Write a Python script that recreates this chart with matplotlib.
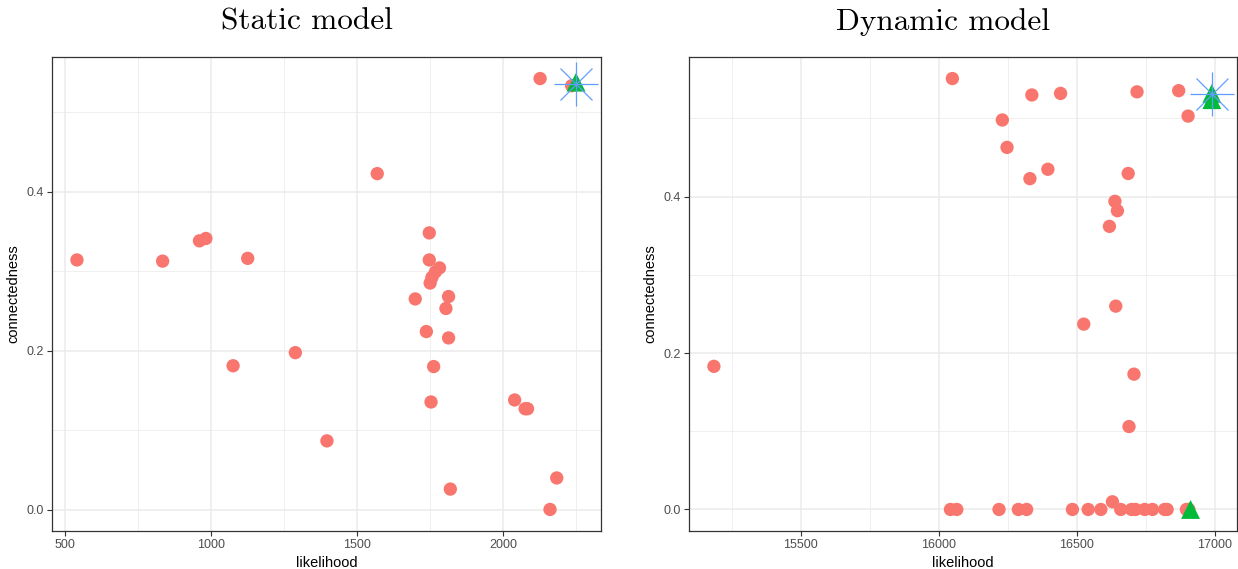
import matplotlib
matplotlib.use("Agg")
import matplotlib.pyplot as plt
import numpy as np

# ---------------- data ----------------
# Static model
static_other_lik = [542, 835, 961, 983, 1126, 1076, 1289, 1397, 1569, 1699, 1737,
                    1747, 1747, 1750, 1756, 1768, 1782, 1753, 1762, 1804, 1813, 1813,
                    1819, 2039, 2075, 2083, 2126, 2160, 2183, 2234]
static_other_con = [0.314, 0.3125, 0.338, 0.341, 0.316, 0.181, 0.1975, 0.0866, 0.4225, 0.265, 0.224,
                    0.348, 0.314, 0.285, 0.292, 0.299, 0.304, 0.1355, 0.180, 0.253, 0.268, 0.216,
                    0.026, 0.138, 0.127, 0.127, 0.542, 0.0004, 0.040, 0.533]
static_best_lik = [2249]
static_best_con = [0.5375]
static_star_lik = [2249]
static_star_con = [0.535]

# Dynamic model
dyn_other_lik = [15185, 16049, 16337, 16441, 16230, 16247, 16330, 16395, 16718, 16869, 16903,
                 16686, 16638, 16647, 16618, 16641, 16525, 16707, 16689,
                 16042, 16065, 16218, 16288, 16318, 16484, 16541, 16587, 16629, 16659,
                 16698, 16713, 16746, 16774, 16818, 16827, 16897, 16906]
dyn_other_con = [0.183, 0.551, 0.530, 0.532, 0.498, 0.463, 0.423, 0.435, 0.534, 0.5355, 0.503,
                 0.4296, 0.394, 0.382, 0.362, 0.260, 0.237, 0.173, 0.106,
                 0.0, 0.0, 0.0, 0.0, 0.0, 0.0, 0.0, 0.0, 0.0098, 0.0,
                 0.0, 0.0, 0.0, 0.0, 0.0, 0.0, 0.0, 0.0]
dyn_best_lik = [16989, 16989, 16912]
dyn_best_con = [0.532, 0.524, 0.0]
dyn_star_lik = [16990]
dyn_star_con = [0.531]

static_xticks = [500, 1000, 1500, 2000]
dyn_xticks = [15500, 16000, 16500, 17000]
yticks = [0.0, 0.2, 0.4]

titles = ["Static model", "Dynamic model"]

# ---------------- style ----------------
RED = "#F8766D"
GREEN = "#00BA38"
BLUE = "#619CFF"
W, H = 1238, 569
fig = plt.figure(figsize=(W / 100, H / 100), dpi=100)
plt.rcParams['font.family'] = ['Liberation Sans', 'DejaVu Sans']


def panel(rect, other_x, other_y, best_x, best_y, star_x, star_y, xticks, title, title_x):
    l, t, r, b = rect
    ax = fig.add_axes([l / W, 1 - b / H, (r - l) / W, (b - t) / H])
    allx = np.array(other_x + best_x + star_x, dtype=float)
    ally = np.array(other_y + best_y + star_y, dtype=float)
    rx = allx.max() - allx.min()
    ry = ally.max() - ally.min()

    ax.scatter(other_x, other_y, s=92, color=RED, edgecolors="none", zorder=3)
    ax.scatter(best_x, best_y, s=185, marker="^", color=GREEN, edgecolors="none", zorder=4)
    ax.plot(star_x, star_y, linestyle="none", marker="+", markersize=32,
            markeredgewidth=0.9, color=BLUE, zorder=5)
    ax.plot(star_x, star_y, linestyle="none", marker="x", markersize=22.5,
            markeredgewidth=0.9, color=BLUE, zorder=5)

    # grid: major and minor
    ax.set_xticks(xticks)
    ax.set_yticks(yticks)
    minor_x = [xticks[0] - 250] + [v + 250 for v in xticks]
    ax.set_xticks(minor_x, minor=True)
    ax.set_yticks([0.1, 0.3, 0.5], minor=True)
    ax.set_xlim(allx.min() - 0.05 * rx, allx.max() + 0.05 * rx)
    ax.set_ylim(ally.min() - 0.05 * ry, ally.max() + 0.05 * ry)
    ax.grid(True, which="major", color="#EBEBEB", linewidth=1.1, zorder=0)
    ax.grid(True, which="minor", color="#EBEBEB", linewidth=0.55, zorder=0)
    ax.set_axisbelow(True)
    ax.tick_params(which="minor", length=0)
    ax.tick_params(which="major", length=3.5, width=0.8, color="#333333",
                   labelsize=9, labelcolor="#4D4D4D", pad=2)
    ax.set_xticklabels([str(v) for v in xticks])
    ax.set_yticklabels(["%.1f" % v for v in yticks])
    for sp in ax.spines.values():
        sp.set_color("#333333")
        sp.set_linewidth(0.9)

    ax.set_xlabel("likelihood", fontsize=10.5, labelpad=4)
    ax.set_ylabel("connectedness", fontsize=10.5, labelpad=5)
    fig.text(title_x / W, 1 - 22 / H, title, fontsize=22.5, family="cmr10",
             ha="center", va="center")
    return ax


panel((52, 57, 601, 531), static_other_lik, static_other_con, static_best_lik, static_best_con,
      static_star_lik, static_star_con, static_xticks, titles[0], 307)
panel((689, 57, 1237, 531), dyn_other_lik, dyn_other_con, dyn_best_lik, dyn_best_con,
      dyn_star_lik, dyn_star_con, dyn_xticks, titles[1], 943)

fig.savefig("out.png", dpi=100)
